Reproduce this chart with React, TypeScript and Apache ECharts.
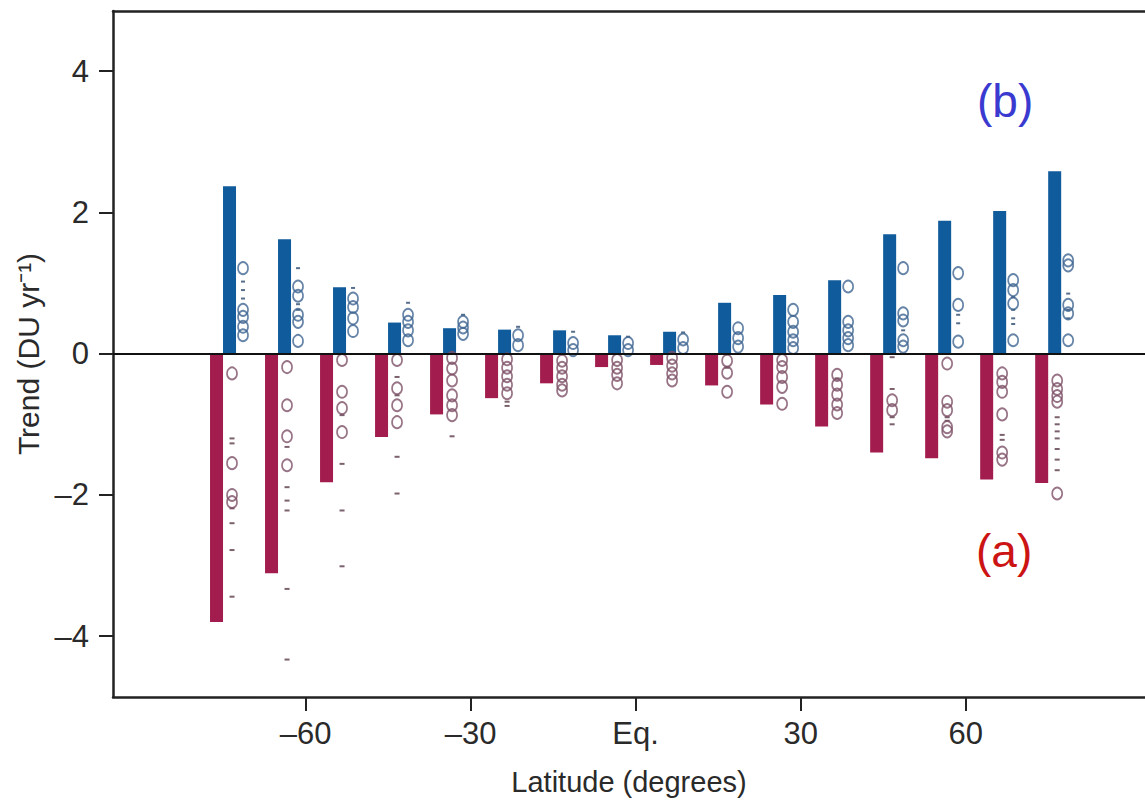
import React, { useEffect, useRef } from "react";
import * as echarts from "echarts";

// Latitude band centres (degrees)
const latitudes = [-75, -65, -55, -45, -35, -25, -15, -5, 5, 15, 25, 35, 45, 55, 65, 75];

// (b) blue bars – positive trend
const trendB = [2.37, 1.62, 0.94, 0.44, 0.36, 0.34, 0.33, 0.26, 0.31, 0.72, 0.83, 1.04, 1.69, 1.88, 2.02, 2.58];
// (a) red bars – negative trend
const trendA = [-3.8, -3.11, -1.82, -1.18, -0.86, -0.63, -0.42, -0.19, -0.16, -0.45, -0.72, -1.03, -1.4, -1.48, -1.78, -1.83];

// model results shown beside the bars (one list per latitude)
const circlesA = [
  [-0.28, -1.55, -2.0, -2.1],
  [-0.19, -0.73, -1.17, -1.58],
  [-0.09, -0.54, -0.77, -1.11],
  [-0.09, -0.49, -0.73, -0.97],
  [-0.06, -0.21, -0.38, -0.59, -0.73, -0.87],
  [-0.08, -0.2, -0.32, -0.44, -0.56],
  [-0.1, -0.2, -0.32, -0.44, -0.52],
  [-0.09, -0.2, -0.3, -0.42],
  [-0.06, -0.17, -0.28, -0.38],
  [-0.1, -0.27, -0.54],
  [-0.09, -0.19, -0.33, -0.47, -0.71],
  [-0.3, -0.44, -0.58, -0.72, -0.84],
  [-0.66, -0.8],
  [-0.14, -0.68, -0.8, -1.04, -1.1],
  [-0.28, -0.4, -0.54, -0.86, -1.4, -1.5],
  [-0.38, -0.5, -0.6, -0.68, -1.98],
];
const dashesA = [
  [-1.2, -1.27, -2.19, -2.4, -2.78, -3.44],
  [-1.32, -1.89, -2.08, -2.22, -3.33, -4.33],
  [-0.87, -1.56, -2.22, -3.01],
  [-0.33, -0.59, -1.46, -1.98],
  [-1.17],
  [-0.68, -0.74],
  [],
  [],
  [],
  [-0.2],
  [],
  [-0.35],
  [-0.05, -0.5, -0.9, -1.0],
  [-0.9, -0.95],
  [-1.15, -1.22],
  [-0.9, -1.0, -1.1, -1.2, -1.35, -1.5, -1.65],
];
const circlesB = [
  [1.21, 0.62, 0.52, 0.38, 0.26],
  [0.95, 0.82, 0.55, 0.45, 0.18],
  [0.78, 0.66, 0.5, 0.32],
  [0.55, 0.45, 0.33, 0.19],
  [0.45, 0.37, 0.28],
  [0.26, 0.12],
  [0.15, 0.05],
  [0.15, 0.05],
  [0.2, 0.08],
  [0.36, 0.22, 0.1],
  [0.62, 0.45, 0.31, 0.19, 0.08],
  [0.95, 0.45, 0.33, 0.22, 0.12],
  [1.21, 0.57, 0.47, 0.19, 0.1],
  [1.14, 0.69, 0.17],
  [1.04, 0.9, 0.71, 0.19],
  [1.32, 1.25, 0.69, 0.57, 0.19],
];
const dashesB = [
  [1.02, 0.9, 0.78],
  [1.21, 0.7, 0.62],
  [0.93],
  [0.72],
  [0.55],
  [0.38],
  [0.31],
  [0.24],
  [0.3],
  [],
  [],
  [],
  [0.33],
  [0.55, 0.43],
  [0.8, 0.62, 0.5, 0.42],
  [0.85, 0.62, 0.5],
];

const xTicks = [-60, -30, 0, 30, 60];
const yTicks = [-4, -2, 0, 2, 4];

const FONT = "'Liberation Sans', Arial, Helvetica, sans-serif";
const RED = "#a21d4d";
const BLUE = "#0f5b9b";
const RED_MARK = "#7d5066";
const BLUE_MARK = "#3e6591";

const toPoints = (lists: number[][]) =>
  lists.flatMap((vals, i) => vals.map((v) => [latitudes[i], v]));

const fmtNum = (v: number) => (v === 0 ? "0" : v < 0 ? "\u2013" + Math.abs(v) : String(v));

export default function App() {
  const ref = useRef<HTMLDivElement>(null);
  useEffect(() => {
    if (!ref.current) return;
    const chart = echarts.init(ref.current, undefined, { renderer: "svg" });
    const circleStyle = (c: string) => ({
      color: "rgba(255,255,255,0)",
      borderColor: c,
      borderWidth: 1.8,
    });
    chart.setOption({
      animation: false,
      backgroundColor: "#ffffff",
      grid: {
        left: 113,
        right: 0,
        top: 11,
        bottom: 104,
        containLabel: false,
        outerBoundsMode: "none",
      },
      xAxis: [
        {
          type: "value",
          min: -95,
          max: 92.6,
          position: "bottom",
          axisLine: { show: true, onZero: false, lineStyle: { color: "#222", width: 2.5 } },
          axisTick: {
            show: true,
            customValues: xTicks,
            length: 14,
            lineStyle: { color: "#222", width: 2 },
          },
          axisLabel: {
            customValues: xTicks,
            margin: 21,
            fontSize: 31,
            fontFamily: FONT,
            color: "#2a2a2a",
            formatter: (v: number) => (v === 0 ? "Eq." : fmtNum(v)),
          },
          splitLine: { show: false },
          name: "Latitude (degrees)",
          nameLocation: "middle",
          nameGap: 70,
          nameTextStyle: { fontSize: 29, fontFamily: FONT, color: "#2a2a2a" },
        },
        {
          type: "value",
          min: -95,
          max: 92.6,
          position: "top",
          axisLine: { show: true, onZero: false, lineStyle: { color: "#222", width: 2.5 } },
          axisTick: { show: false },
          axisLabel: { show: false },
          splitLine: { show: false },
        },
      ],
      yAxis: {
        type: "value",
        min: -4.86,
        max: 4.85,
        axisLine: { show: true, onZero: false, lineStyle: { color: "#222", width: 2.5 } },
        axisTick: {
          show: true,
          customValues: yTicks,
          length: 14,
          lineStyle: { color: "#222", width: 2 },
        },
        axisLabel: {
          customValues: yTicks,
          margin: 24,
          fontSize: 31,
          fontFamily: FONT,
          color: "#2a2a2a",
          formatter: (v: number) => fmtNum(v),
        },
        splitLine: { show: false },
        name: "Trend (DU yr\u207B\u00B9)",
        nameLocation: "middle",
        nameGap: 62,
        nameTextStyle: { fontSize: 30, fontFamily: FONT, color: "#2a2a2a" },
      },
      series: [
        {
          name: "(a)",
          type: "bar",
          data: latitudes.map((lat, i) => [lat, trendA[i]]),
          barWidth: 13,
          barGap: "0%",
          itemStyle: { color: RED },
          markLine: {
            silent: true,
            symbol: "none",
            label: { show: false },
            lineStyle: { color: "#111", width: 1.8, type: "solid" },
            data: [{ yAxis: 0 }],
          },
        },
        {
          name: "(b)",
          type: "bar",
          data: latitudes.map((lat, i) => [lat, trendB[i]]),
          barWidth: 13,
          barGap: "0%",
          itemStyle: { color: BLUE },
        },
        {
          type: "scatter",
          data: toPoints(dashesA),
          symbol: "rect",
          symbolSize: [5, 2],
          symbolOffset: [9, 0],
          itemStyle: { color: "#5a3a48" },
        },
        {
          type: "scatter",
          data: toPoints(circlesA),
          symbol: "circle",
          symbolSize: [10, 12],
          symbolOffset: [9, 0],
          itemStyle: circleStyle(RED_MARK),
        },
        {
          type: "scatter",
          data: toPoints(dashesB),
          symbol: "rect",
          symbolSize: [4, 2],
          symbolOffset: [20, 0],
          itemStyle: { color: "#2d4a6e" },
        },
        {
          type: "scatter",
          data: toPoints(circlesB),
          symbol: "circle",
          symbolSize: [10, 12],
          symbolOffset: [20, 0],
          itemStyle: circleStyle(BLUE_MARK),
        },
      ],
      graphic: [
        {
          type: "text",
          left: 977,
          top: 78,
          style: { text: "(b)", fontSize: 46, fontFamily: FONT, fill: "#3a3ad0" },
        },
        {
          type: "text",
          left: 976,
          top: 528,
          style: { text: "(a)", fontSize: 46, fontFamily: FONT, fill: "#cc1414" },
        },
      ],
    });
    return () => chart.dispose();
  }, []);
  return (
    <div
      ref={ref}
      style={{ position: "fixed", left: 0, top: 0, width: 1145, height: 801, background: "#fff" }}
    />
  );
}
